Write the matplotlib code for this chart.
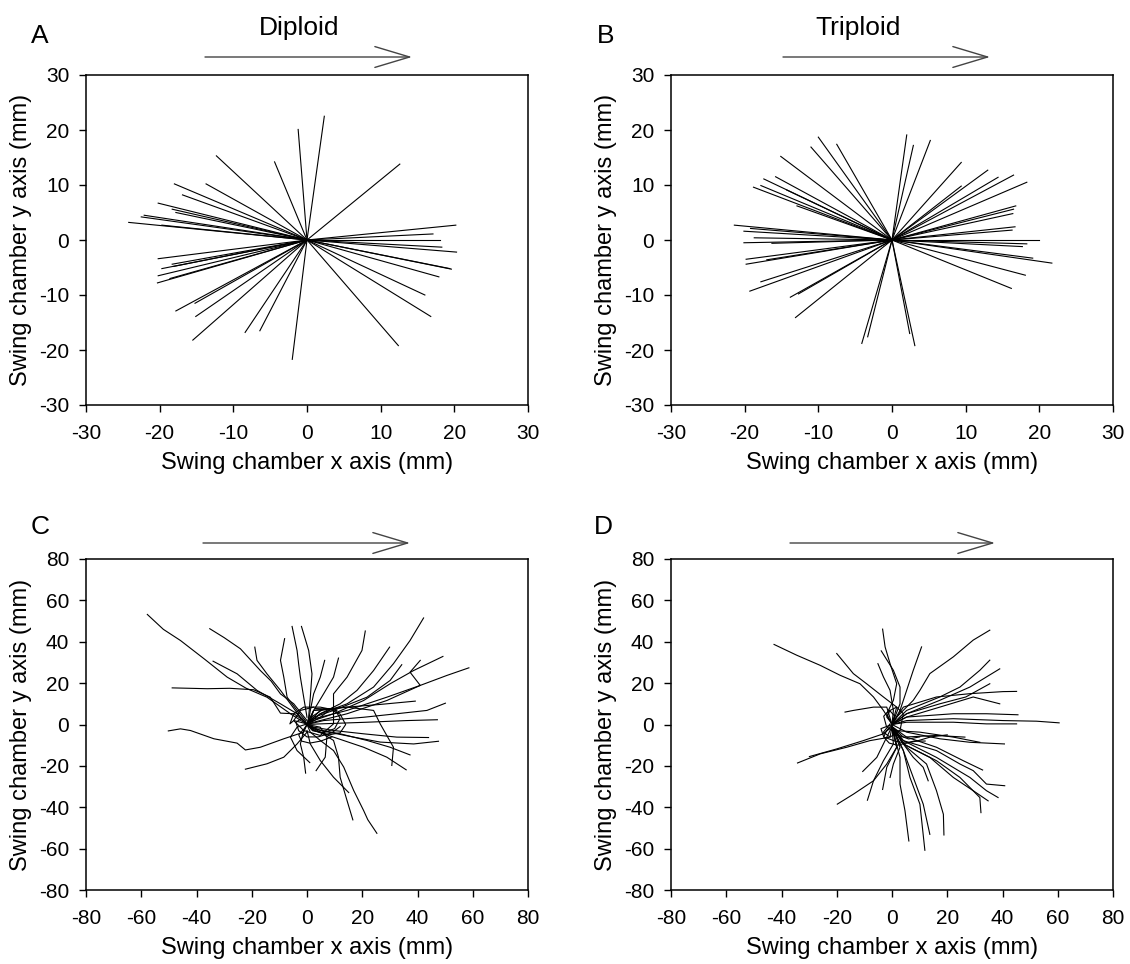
import matplotlib
matplotlib.use("Agg")
import matplotlib.pyplot as plt
from matplotlib.patches import FancyArrowPatch

plt.rcParams['font.family'] = ['Liberation Sans', 'DejaVu Sans']
plt.rcParams['axes.unicode_minus'] = False

# end points of the straight tracks (mm)
diploid_end_x = [2.35, -1.2, 12.6, -12.3, -4.4, -18.0, -13.7, -16.9, -20.2, -18.3,
                 -17.8, -22.1, -22.5, -24.2, -19.7, 20.2, 17.1, 18.1, 18.3, 20.3,
                 19.4, 19.6, 17.9, 16.0, 16.8, 12.4, -2.0, -6.4, -8.4, -15.5,
                 -15.1, -17.8, -15.2, -20.3, -20.2, -18.6, -19.7, -18.3, -18.1, -20.2]
diploid_end_y = [22.5, 20.1, 13.8, 15.3, 14.2, 10.2, 10.2, 8.2, 6.7, 5.6,
                 5.0, 4.5, 4.2, 3.2, 2.7, 2.7, 1.1, 0.0, -1.3, -2.2,
                 -5.2, -5.3, -6.7, -10.0, -13.9, -19.2, -21.7, -16.5, -16.8, -18.2,
                 -13.9, -12.9, -11.5, -7.8, -6.5, -7.0, -5.2, -4.4, -4.8, -3.4]

triploid_end_x = [2.0, 2.9, 5.2, 9.4, 13.0, 14.4, 9.4, 16.5, 18.3, 16.8,
                  16.5, 16.4, 16.7, 16.3, 20.0, 18.3, 17.7, 19.1, 21.7, 18.1,
                  16.2, 3.1, 2.4, -4.1, -3.3, -13.1, -13.8, -12.7, -19.3, -17.8,
                  -19.8, -19.8, -17.0, -20.1, -16.3, -18.7, -20.1, -21.4, -19.2, -18.8,
                  -17.4, -17.8, -15.8, -12.9, -15.1, -11.0, -10.0, -7.5, -14.3]
triploid_end_y = [19.1, 17.2, 18.1, 14.1, 12.7, 11.4, 9.8, 11.8, 10.5, 6.2,
                  5.6, 4.8, 2.4, 1.8, 0.0, -0.7, -1.2, -3.3, -4.2, -6.4,
                  -8.8, -19.2, -17.0, -18.8, -17.6, -14.1, -10.4, -9.8, -9.3, -7.6,
                  -4.4, -3.5, -3.6, -0.5, -0.6, 0.4, 1.6, 2.7, 2.1, 9.6,
                  11.1, 9.9, 11.5, 6.2, 15.2, 16.9, 18.7, 17.4, 9.1]

# swimming paths (mm), one (x list, y list) pair per fish
diploid_paths = [
    ([0, -6, -14.5, -22, -28.9, -37, -45.8, -52, -57.8], [0, 5.2, 13.2, 17.5, 22.9, 31.5, 40.6, 46, 53.2]),
    ([0, -4.8, -9.6, -13, -16.9, -24.1, -30, -35.2], [1.9, 10.0, 14.8, 21, 26.1, 36.6, 42, 46.3]),
    ([0, -3.6, -9.6, -18.1, -25.3, -34.0], [0, 5.2, 10.0, 16.5, 24.5, 30.6]),
    ([0, -1.2, -4.8, -9.6, -13.3, -19.3, -28, -36.1, -48.8], [0, 1.9, 5.2, 5.5, 13.2, 16.8, 17.5, 17.3, 17.7]),
    ([0, -1.2, -8.4, -16.9, -22.3, -25.3, -33.7, -42.2, -45.8, -50.2],
     [0, -3.7, -6.9, -11.0, -12.3, -9.0, -6.9, -2.9, -2.1, -3.1]),
    ([0, -3.6, -8.4, -14.5, -22.3], [-3.7, -9.4, -15.8, -19.0, -21.6]),
    ([0, -2.4, -6.0, -9.6, -14.5, -18.1, -18.9], [0, 3.5, 10.0, 16.5, 24.5, 31.0, 37.4]),
    ([0, -0.6, -3.6, -7.2, -8.4, -9.6, -8.1], [0, 1.9, 6.8, 13.2, 22.9, 31.0, 41.5]),
    ([0, -1.2, -2.4, -3.0, -3.6, -5.4], [3.5, 13.2, 22.9, 29, 35.8, 47.4]),
    ([0, 0.6, 1.2, 1.8, 0.6, -2.0], [0, 3.5, 13.2, 24.5, 35.8, 47.4]),
    ([0, 0.6, 1.2, 2.4, 4.8, 6.4], [0, 1.9, 6.8, 14.8, 22.9, 31.0]),
    ([0, 2.4, 6.0, 9.6, 11.4], [0, 6.8, 14.8, 22.9, 32.1]),
    ([0, 4.8, 9.6, 9.6, 14.5, 19.9, 21.1], [0, 3.5, 8.4, 14.8, 22.9, 35.8, 45.2]),
    ([0, 4.8, 12.0, 18.1, 24.1, 29.9], [0, 5.2, 10.0, 16.5, 26.1, 37.4]),
    ([0, 4.8, 14.5, 24.1, 31.3, 37.3, 42.2], [0, 5.2, 10.0, 18.1, 29.4, 40.6, 51.5]),
    ([0, 2.4, 9.6, 21.7, 30.1, 34.3], [0, 3.5, 6.8, 13.2, 21.3, 28.9]),
    ([0, 2.4, 14.5, 28.9, 41.0, 37.3, 41.0], [0, 2.7, 6.8, 13.2, 18.9, 25.3, 31.0]),
    ([0, 2.4, 9.6, 20.5, 30.1, 38.6, 49.2], [0, 1.9, 5.2, 11.6, 19.7, 26.1, 32.9]),
    ([0, 2.4, 14.5, 28.9, 41.0, 50.6, 58.6], [0, 1.1, 5.2, 11.6, 18.9, 23.7, 27.4]),
    ([0, 1.2, 2.4, 14.5, 26.5, 39.2], [0, 1.9, 6.8, 8.4, 9.7, 11.3]),
    ([0, 6.0, 20.5, 32.5, 43.4, 50.1], [0, 1.9, 3.5, 5.2, 6.8, 10.3]),
    ([0, 4.8, 21.7, 36.1, 47.2], [0, 0.3, 1.1, 1.9, 2.3]),
    ([0, 2.4, 9.6, 20.5, 32.5, 44.0], [0, -1.3, -2.9, -4.5, -6.1, -6.3]),
    ([0, 4.8, 16.9, 26.5, 38.6, 47.6], [0, -2.9, -6.1, -8.5, -9.4, -8.1]),
    ([0, 2.4, 12.0, 21.7, 30.1, 37.3], [0, -2.1, -4.5, -7.7, -11.0, -14.7]),
    ([0, 2.4, 9.6, 20.5, 28.9, 35.9], [0, -2.9, -6.1, -11.0, -15.8, -21.9]),
    ([0, 2.4, 14.5, 24.1, 26.5, 31.3, 30.7], [0, 6.8, 8.4, 6.8, 0.3, -11.0, -19.8]),
    ([0, 1.2, 4.8, 9.6, 13.3, 16.9, 20.5, 22, 25.3], [0, -3.7, -7.7, -12.6, -20.6, -31.9, -41.6, -46, -52.6]),
    ([0, 4.8, 9.6, 11.4, 12.0, 14.5, 16.6], [0, -3.7, -7.7, -15.8, -25.5, -36.8, -46.1]),
    ([0, 1.2, 4.8, 9.6, 15.1], [-2.9, -9.4, -17.4, -25.5, -32.9]),
    ([0, 4.8, 7.2, 6.6, 3.3], [0, -1.3, -6.1, -15.8, -22.3]),
    ([0, -1.2, -2.4, -1.2, -0.5], [0, -2.9, -9.4, -15.8, -23.5]),
    ([0, -3.6, -6.0, -3.6, 1.0], [0.3, -1.3, -6.1, -12.6, -18.4]),
    ([0, 4.8, 9.6, 9.6, 4.8, -1.2, -4.8, -2.4, 2.4], [0.3, 6.8, 7.6, 0.3, -5.3, -2.9, 1.9, 6.8, 8.4]),
    ([0, -4.8, -6.2, -4.8, -1.2, 4.8, 10.8], [0.3, 1.9, 0.3, 5.2, 8.4, 8.4, 6.8]),
    ([0, 2, 6, 10, 12, 10, 6, 2, 0], [0, 4, 7.5, 7.5, 3, -2, -4, -3, 0]),
    ([0, -2, -4, -3, 0, 4, 9, 12], [0, 3, 1, -3, -6, -6, -4, -1]),
    ([0, 3, 8, 12, 14, 12, 8, 3], [0, -3, -5, -4, 0, 5, 7.5, 7.7]),
    ([0, -1, -3, -2, 1, 5, 9], [0, -2, -5, -8, -9, -8, -6]),
]

triploid_paths = [
    ([0, -3.1, -6.7, -11.6, -18.8, -26.0, -34.5, -42.7], [0.3, 6.8, 13.3, 19.7, 23.8, 28.6, 33.5, 38.7]),
    ([0, 1.7, -3.1, -9.2, -14.0, -20.0], [0, 8.4, 13.3, 19.7, 24.6, 34.3]),
    ([0, -1.9, 0.5, 1.7, -0.7, -2.5, -3.4], [0, 5.2, 11.7, 19.7, 29.4, 37.5, 46.1]),
    ([0, 0.5, -0.7, -3.1, -5.1], [0, 6.8, 16.5, 23.0, 29.4]),
    ([0, 2.9, 2.9, 0.5, -3.9], [0, 10.0, 18.1, 26.2, 35.6]),
    ([0, 2.9, 5.3, 7.7, 10.7], [0, 6.8, 16.5, 26.2, 37.5]),
    ([0, 1.7, 7.7, 10.1, 13.7, 22.2, 29.4, 35.4], [0, 3.6, 11.7, 16.5, 24.6, 32.7, 40.8, 45.6]),
    ([0, 5.3, 17.3, 24.6, 31.8, 35.4], [0, 6.8, 13.3, 18.1, 26.2, 31.1]),
    ([0, 5.3, 17.3, 28.2, 34.2, 39.0], [0, 5.2, 11.7, 18.1, 23.0, 26.9]),
    ([0, 4.1, 16.1, 28.2, 40.2, 45.1], [0, 8.4, 13.3, 14.9, 15.9, 16.0]),
    ([0, 5.3, 17.3, 26.7, 35.4], [0, 5.2, 10.0, 13.3, 19.7]),
    ([0, 5.3, 17.3, 29.4, 39.0], [0, 3.6, 8.4, 13.3, 10.0]),
    ([0, 5.3, 22.2, 34.2, 45.6], [0, 3.6, 5.2, 5.2, 4.7]),
    ([0, 5.3, 22.2, 40.2, 52.3, 60.5], [0, 1.9, 2.8, 1.9, 1.6, 0.8]),
    ([0, 5.3, 22.2, 34.2, 45.1], [0, 1.1, 1.1, 0.3, 0.3]),
    ([0, 5.3, 17.3, 28.2, 40.7], [0, -3.7, -6.9, -8.6, -9.4]),
    ([0, 4.1, 16.1, 26.4], [-1, -6.1, -5.3, -6.1]),
    ([0, 4.1, 16.1, 24.6, 29.4, 34.2, 40.8], [-1, -7.8, -12.6, -19.1, -22.3, -28.8, -29.6]),
    ([0, 4.1, 16.1, 28.2, 34.2, 38.4], [-1, -7.8, -15.9, -25.6, -32.0, -35.3]),
    ([0, 4.1, 13.7, 22.2, 29.4, 34.8], [-1, -9.4, -15.9, -25.6, -32.0, -36.9]),
    ([0, 4.1, 16.1, 24.6, 31.8, 32.2], [-1, -9.4, -17.5, -25.6, -35.3, -42.6]),
    ([0, 5.3, 16.1, 25.8, 32.8], [-1, -6.1, -11.0, -17.5, -22.0]),
    ([0, 4.1, 7.7, 11.3, 13.1], [-1, -9.4, -15.9, -20.7, -27.2]),
    ([0, 5.3, 12.5, 16.1, 18.6, 18.8], [-1, -11.0, -19.1, -32.0, -43.4, -53.4]),
    ([0, 4.1, 7.7, 11.3, 13.7], [-1, -12.6, -25.6, -38.5, -53.1]),
    ([0, 4.1, 6.5, 10.1, 11.9], [-1, -12.6, -25.6, -38.5, -60.8]),
    ([0, 2.9, 2.9, 4.7, 6.1], [-1, -15.9, -28.8, -41.7, -56.3]),
    ([0, 1.7, -1.9, -6.7, -14.0, -19.8], [-1, -11.0, -19.1, -27.2, -33.7, -38.5]),
    ([0, 0.5, -3.1, -6.7, -8.9], [-1, -9.4, -17.5, -27.2, -36.6]),
    ([0, 1.7, -1.9, -3.4], [-1, -11.0, -20.7, -31.4]),
    ([0, 2.9, 0.5, -0.7], [-1, -11.0, -19.1, -25.6]),
    ([0, -1.9, -5.5, -10.6], [-1, -6.1, -15.9, -22.7]),
    ([0, -0.7, -8.0, -16.4, -26.0, -34.2], [-1, -6.1, -7.8, -11.0, -14.2, -18.6]),
    ([0, -3.1, -10.4, -20.0, -29.9], [-1, -4.5, -7.8, -11.8, -15.5]),
    ([0, -1.9, -6.7, -14.0, -17.0], [0, 8.4, 8.4, 6.8, 6.0]),
    ([0, -1.9, -0.7, 1.7, 4.1, 2.9, -0.7, -3.1, -0.7], [0.3, 3.6, 6.8, 8.4, 5.2, -2.9, -6.1, -3.7, 0.3]),
    ([0, 0.5, 10.1, 22.2, 31.8], [0, -2.9, -3.7, -6.1, -8.6]),
    ([0, -2, -3, -1, 2, 5, 8, 12], [0, -3, -6, -9, -10, -9, -8, -8]),
    ([0, 1, -1, -3, -2, 2, 6, 10], [0, 4, 7, 4, -1, -5, -7, -6]),
    ([0, -4, -3, 1, 5, 9, 14, 20], [0, -2, -6, -8, -9, -8, -6, -5]),
]

W, H = 1130, 964
fig = plt.figure(figsize=(W / 100, H / 100), dpi=100)


def px_axes(x0, y0, x1, y1):
    return fig.add_axes([x0 / W, 1 - y1 / H, (x1 - x0) / W, (y1 - y0) / H])


def style(ax, lim, step):
    ax.set_xlim(-lim, lim)
    ax.set_ylim(-lim, lim)
    ticks = list(range(-lim, lim + 1, step))
    ax.set_xticks(ticks)
    ax.set_yticks(ticks)
    ax.tick_params(direction='out', length=5, width=1, labelsize=15)
    ax.tick_params(axis='x', pad=9)
    ax.tick_params(axis='y', pad=7)
    for s in ax.spines.values():
        s.set_linewidth(1.1)
    ax.set_xlabel('Swing chamber x axis (mm)', fontsize=17, labelpad=6)
    ax.set_ylabel('Swing chamber y axis (mm)', fontsize=17, labelpad=5)


def arrow(x0, x1, y):
    a = FancyArrowPatch((x0 / W, 1 - y / H), (x1 / W, 1 - y / H),
                        transform=fig.transFigure, arrowstyle='->,head_length=2.5,head_width=0.75',
                        mutation_scale=10, color='#444444', lw=1.0, shrinkA=0, shrinkB=0)
    fig.add_artist(a)


axA = px_axes(86, 75, 528, 405)
axB = px_axes(671, 75, 1113, 405)
axC = px_axes(86, 559, 528, 890)
axD = px_axes(671, 559, 1113, 890)

for ex, ey in zip(diploid_end_x, diploid_end_y):
    axA.plot([0, ex], [0, ey], color='black', lw=0.8)
for ex, ey in zip(triploid_end_x, triploid_end_y):
    axB.plot([0, ex], [0, ey], color='black', lw=0.8)
for px, py in diploid_paths:
    axC.plot(px, py, color='black', lw=0.8)
for px, py in triploid_paths:
    axD.plot(px, py, color='black', lw=0.8)

style(axA, 30, 10)
style(axB, 30, 10)
style(axC, 80, 20)
style(axD, 80, 20)

# panel letters and group titles
fig.text(40 / W, 1 - 36 / H, 'A', fontsize=19, ha='center', va='center')
fig.text(606 / W, 1 - 36 / H, 'B', fontsize=19, ha='center', va='center')
fig.text(40 / W, 1 - 527 / H, 'C', fontsize=19, ha='center', va='center')
fig.text(603 / W, 1 - 527 / H, 'D', fontsize=19, ha='center', va='center')
fig.text(299 / W, 1 - 28 / H, 'Diploid', fontsize=19, ha='center', va='center')
fig.text(858 / W, 1 - 28 / H, 'Triploid', fontsize=19, ha='center', va='center')

# flow direction arrows
arrow(205, 412, 57)
arrow(783, 990, 57)
arrow(203, 410, 543)
arrow(790, 995, 543)

fig.savefig('out.png', dpi=100)
